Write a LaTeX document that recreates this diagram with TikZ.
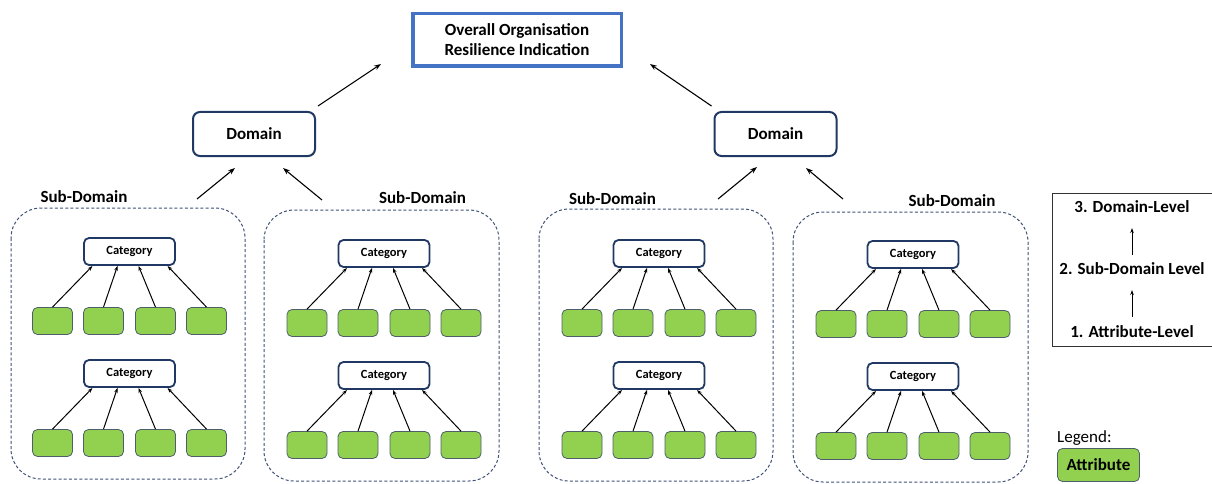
\documentclass[tikz,border=0pt]{standalone}
\usepackage{fontspec}
\setmainfont{Carlito}
\usetikzlibrary{arrows.meta,calc}
\definecolor{navy}{HTML}{203864}
\definecolor{topblue}{HTML}{4472C4}
\definecolor{attrgreen}{HTML}{92D050}
\definecolor{attredge}{HTML}{4E5F6B}
\definecolor{dashblue}{HTML}{3E5177}

\tikzset{
  topbox/.style={draw=topblue, line width=3.5pt, minimum width=208.5pt, minimum height=52.5pt,
    align=center, inner sep=0pt, font=\bfseries\fontsize{17}{20}\selectfont},
  domainbox/.style={draw=navy, line width=2pt, rounded corners=7pt, minimum width=122pt,
    minimum height=44pt, inner sep=0pt, font=\bfseries\fontsize{17}{20}\selectfont},
  catbox/.style={draw=navy, line width=1.8pt, rounded corners=5pt, minimum width=91pt,
    minimum height=27pt, inner sep=0pt, font=\bfseries\fontsize{12.5}{14}\selectfont},
  attr/.style={fill=attrgreen, draw=attredge, line width=0.8pt, rounded corners=5pt,
    minimum width=40pt, minimum height=27pt, inner sep=0pt},
  sdbox/.style={draw=dashblue, line width=1pt, dash pattern=on 3pt off 2.2pt, rounded corners=30pt},
  lbl/.style={inner sep=0pt, font=\bfseries\fontsize{17}{20}\selectfont},
  arr/.style={-{Stealth[length=7pt,width=5pt]}, line width=1.1pt},
  smallarr/.style={-{Stealth[length=5pt,width=3.5pt]}, line width=1pt},
}

% one sub-domain: #1 prefix, #2 centre x of the categories, #3 top of the first category,
% #4/#5 left/right of the dashed frame, #6/#7 top/bottom of the dashed frame
\newcommand\subdomainblock[7]{%
  \draw[sdbox] (#4,#6) rectangle (#5,#7);
  \foreach \r/\dy in {a/0, b/122} {
    \node[catbox] (#1\r) at (#2, #3+\dy+14.5) {Category};
    \foreach \i/\dx/\ex in {1/-77/-37, 2/-26/-12, 3/26/9, 4/77/38} {
      \node[attr] (#1\r\i) at (#2+\dx, #3+\dy+84) {};
      \draw[smallarr] (#1\r\i.north) -- ($(#1\r.south)+(\ex,0)$);
    }
  }
}

\begin{document}
\begin{tikzpicture}[x=1pt,y=-1pt]
\useasboundingbox (0,0) rectangle (1212,484);

% top level
\node[topbox] (top) at (517,40) {Overall Organisation\\Resilience Indication};

% domains
\node[domainbox] (domL) at (254,134) {Domain};
\node[domainbox] (domR) at (775.5,134) {Domain};

\draw[arr] ($(domL.north east)+(2,-5)$) -- ($(top.west)+(-30,24)$);
\draw[arr] ($(domR.north west)+(-2,-5)$) -- ($(top.east)+(27,24)$);

% sub-domains
\subdomainblock{A}{129.5}{237}{11}{245}{208}{479}
\subdomainblock{B}{384}{239}{264}{499}{210}{481}
\subdomainblock{C}{659}{239}{539}{773}{209}{481}
\subdomainblock{D}{913}{240}{793}{1028}{212}{482}

\node[lbl] (lA) at (84,197) {Sub-Domain};
\node[lbl] (lB) at (422.5,198) {Sub-Domain};
\node[lbl] (lC) at (612.5,199) {Sub-Domain};
\node[lbl] (lD) at (952,201) {Sub-Domain};

\coordinate (sA) at (197,199);
\coordinate (sB) at (322,200);
\coordinate (sC) at (718,199);
\coordinate (sD) at (843,199);
\draw[arr] (sA) -- ($(domL.south)+(-19,11)$);
\draw[arr] (sB) -- ($(domL.south)+(29,11)$);
\draw[arr] (sC) -- ($(domR.south)+(-18.5,10)$);
\draw[arr] (sD) -- ($(domR.south)+(30.5,11)$);

% levels
\node[draw=black!80, line width=1pt, minimum width=165pt, minimum height=153pt, inner sep=0pt]
  (lgbox) at (1134.5,269.5) {};
\node[lbl] (lv3) at (1132,207) {3. Domain-Level};
\node[lbl] (lv2) at (1132,269) {2. Sub-Domain Level};
\node[lbl] (lv1) at (1132,332) {1. Attribute-Level};
\draw[smallarr] ($(lv2)+(0,-14)$) -- ($(lv3)+(0,21)$);
\draw[smallarr] ($(lv1)+(0,-15)$) -- ($(lv2)+(0,21)$);

% legend
\node[anchor=west, inner sep=0pt, font=\fontsize{17}{20}\selectfont] (lgtitle) at (1057,438) {Legend:};
\node[attr, minimum width=82pt, minimum height=33pt, font=\bfseries\fontsize{17}{20}\selectfont]
  (lgattr) at (1098.5,465) {Attribute};
\end{tikzpicture}
\end{document}
